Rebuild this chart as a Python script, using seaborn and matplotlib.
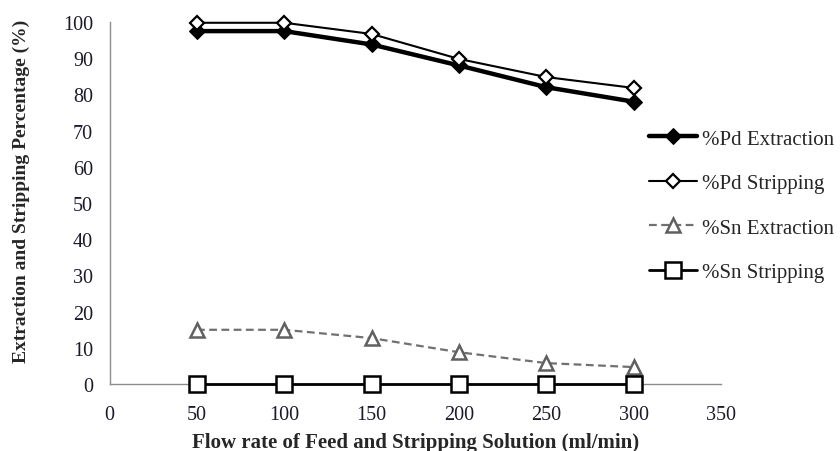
import seaborn as sns
import matplotlib.pyplot as plt
import pandas as pd

flow = [50, 100, 150, 200, 250, 300]
pd_extraction = [97.5, 97.5, 93.8, 88.0, 82.0, 78.0]
pd_stripping = [99.8, 99.8, 96.7, 89.8, 84.8, 81.8]
sn_extraction = [15.0, 15.0, 12.7, 8.8, 5.8, 4.7]
sn_stripping = [0, 0, 0, 0, 0, 0]

sns.set_style('white')
plt.rcParams['font.family'] = ['Liberation Serif', 'DejaVu Serif']

fig = plt.figure(figsize=(8.4, 4.52), dpi=100)
ax = fig.add_axes([0.1305, 0.148, 0.728, 0.801])

sns.lineplot(x=flow, y=pd_extraction, ax=ax, color='black', lw=3.2,
             marker='D', markersize=8, markerfacecolor='black',
             markeredgecolor='black', label='%Pd Extraction',
             clip_on=False, zorder=3)
sns.lineplot(x=flow, y=pd_stripping, ax=ax, color='black', lw=1.5,
             marker='D', markersize=7.5, markerfacecolor='white',
             markeredgecolor='black', markeredgewidth=1.6, label='%Pd Stripping',
             clip_on=False, zorder=3)
sns.lineplot(x=flow, y=sn_extraction, ax=ax, color='#707070', lw=1.6,
             linestyle=(0, (3.5, 2)), marker='^', markersize=10,
             markerfacecolor='white', markeredgecolor='#606060',
             markeredgewidth=1.8, label='%Sn Extraction',
             clip_on=False, zorder=3)
sns.lineplot(x=flow, y=sn_stripping, ax=ax, color='black', lw=2,
             marker='s', markersize=11, markerfacecolor='white',
             markeredgecolor='black', markeredgewidth=1.8, label='%Sn Stripping',
             clip_on=False, zorder=3)

ax.set_xlim(0, 350)
ax.set_ylim(0, 100)
ax.set_xticks(range(0, 351, 50))
ax.set_yticks(range(0, 101, 10))

for s in ['top', 'right']:
    ax.spines[s].set_visible(False)
for s in ['left', 'bottom']:
    ax.spines[s].set_color('#8c8c8c')
    ax.spines[s].set_linewidth(1)

ax.tick_params(axis='y', direction='out', length=4, color='#8c8c8c',
               labelsize=14.5, labelcolor='#1a1a2a', pad=8)
ax.tick_params(axis='x', direction='inout', length=6, color='#8c8c8c',
               labelsize=14.5, labelcolor='#1a1a2a', pad=12)

ax.set_xlabel('Flow rate of Feed and Stripping Solution (ml/min)',
              fontsize=15, fontweight='bold', labelpad=6)
ax.set_ylabel('Extraction and Stripping Percentage (%)',
              fontsize=14, fontweight='bold')
ax.yaxis.set_label_coords(-0.13, 0.535)

leg = ax.legend(loc='center left', bbox_to_anchor=(0.869, 0.493), frameon=False,
                fontsize=15, handlelength=2.3, handletextpad=0.25,
                labelspacing=1.2, borderaxespad=0)

fig.savefig('out.png', dpi=100)
